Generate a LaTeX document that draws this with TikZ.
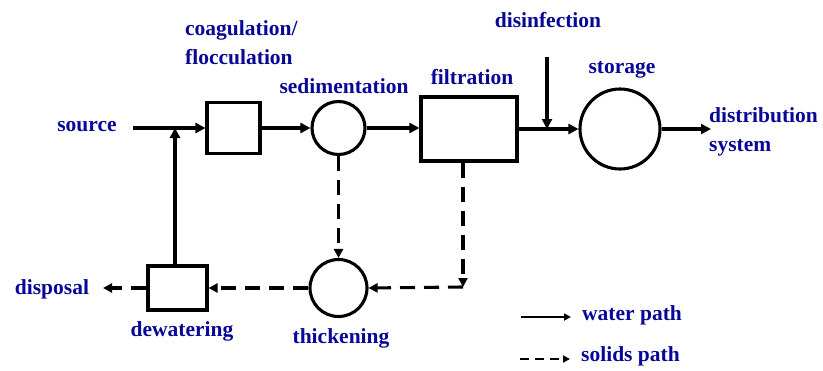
\documentclass[tikz,border=0pt]{standalone}
\usepackage{fontspec}
\setmainfont{Liberation Serif}
\usetikzlibrary{arrows.meta}
\definecolor{labelblue}{RGB}{8,8,150}
\tikzset{
  unit/.style={draw=black, line width=3.1pt, fill=white, inner sep=0pt},
  boxunit/.style={unit, rectangle},
  roundunit/.style={unit, circle},
  water/.style={line width=3.1pt, -{Triangle[length=10pt,width=10pt]}},
  solids/.style={line width=3.1pt, dash pattern=on 15pt off 9pt, -{Triangle[length=9pt,width=9pt]}},
  lbl/.style={text=labelblue, font=\fontsize{21.5}{29}\selectfont\bfseries, inner sep=0pt}
}
\begin{document}
\begin{tikzpicture}[x=1pt, y=-1pt]
\useasboundingbox (0,0) rectangle (823,370);

% treatment units
\node[boxunit, minimum width=53pt, minimum height=51pt] (coag) at (233.5,128) {};
\node[roundunit, minimum size=53pt] (sed) at (338.5,128) {};
\node[boxunit, minimum width=96pt, minimum height=64pt] (filt) at (469,129) {};
\node[roundunit, minimum size=80pt] (stor) at (620,129) {};
\node[roundunit, minimum size=57pt] (thick) at (338.5,288) {};
\node[boxunit, minimum width=59pt, minimum height=44pt] (dew) at (177.5,288) {};

% free ends of the connectors
\coordinate (src) at (133,128);
\coordinate (jn) at (175,128);
\coordinate (dis) at (547,57);
\coordinate (out) at (711,129);
\coordinate (corner) at (463,287);
\coordinate (dsp) at (103,288);

% labels
\node[lbl] (lsource) at (87,127) {source};
\node[lbl, anchor=west, align=left] (lcoag) at (185,43) {coagulation/\\flocculation};
\node[lbl] (lsed) at (344,86) {sedimentation};
\node[lbl] (lfilt) at (472,77) {filtration};
\node[lbl] (ldis) at (548,20) {disinfection};
\node[lbl] (lstor) at (622,70) {storage};
\node[lbl, anchor=west, align=left] (ldist) at (709,132) {distribution\\system};
\node[lbl] (ldisp) at (52,289) {disposal};
\node[lbl] (ldew) at (182,331) {dewatering};
\node[lbl] (lthick) at (341,338) {thickening};

% water path
\draw[water] (src) -- (coag.west);
\draw[water] (coag.east) -- (coag.east -| sed.west);
\draw[water] (sed.east) -- (filt.west |- sed.east);
\draw[water] (filt.east) -- (stor.west);
\draw[water] (stor.east) -- (out);
\draw[water] (dis) -- (dis |- filt.east);
\draw[water] (dew.north -| jn) -- (jn);

% solids path
\draw[solids] (sed.south) -- (thick.north);
\draw[solids] (filt.south -| corner) -- (corner);
\draw[solids] (corner) -- (thick.east);
\draw[solids] (thick.west) -- (dew.east);
\draw[solids] (dew.west) -- (dsp);

% legend
\coordinate (wa) at (521,317);
\coordinate (wb) at (571,317);
\coordinate (sa) at (520,359);
\coordinate (sb) at (570,359);
\draw[line width=2pt, -{Triangle[length=7pt,width=7pt]}] (wa) -- (wb);
\draw[line width=2pt, dash pattern=on 9pt off 6pt, -{Triangle[length=7pt,width=7pt]}] (sa) -- (sb);
\node[lbl, anchor=west] (lwater) at (582,315) {water path};
\node[lbl, anchor=west] (lsolids) at (581,356) {solids path};
\end{tikzpicture}
\end{document}
